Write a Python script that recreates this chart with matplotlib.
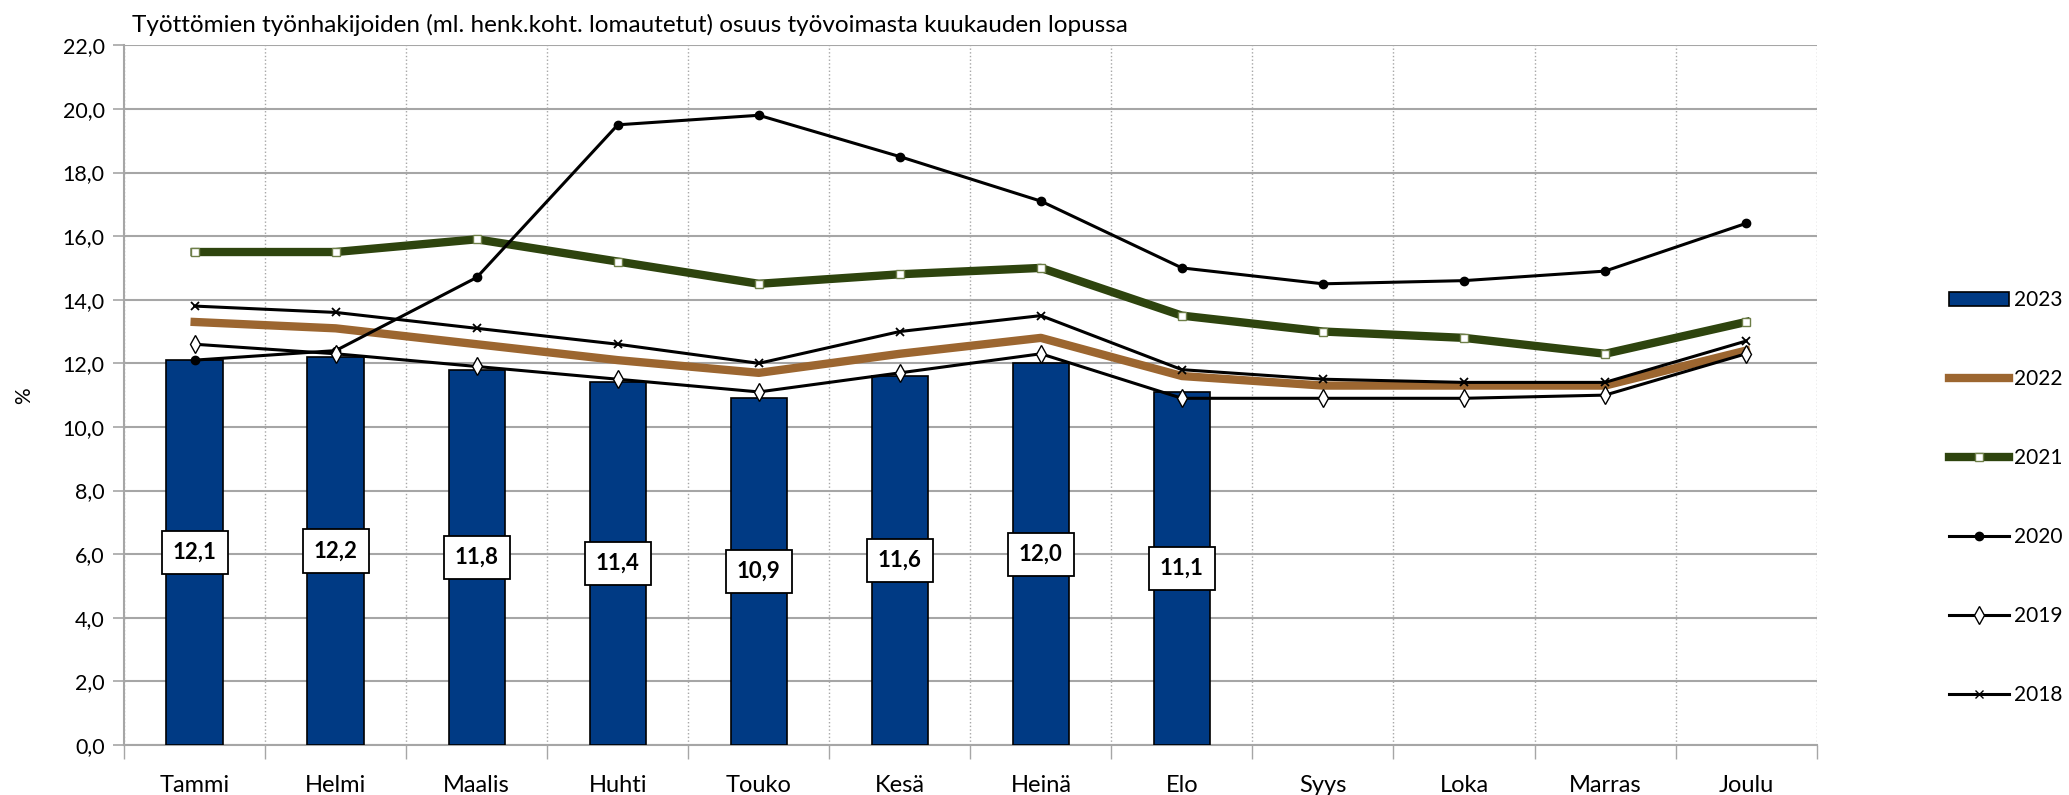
import matplotlib
matplotlib.use("Agg")
import matplotlib.pyplot as plt
from matplotlib.patches import Patch
from matplotlib.lines import Line2D
import numpy as np

plt.rcParams['font.family'] = ['Lato', 'DejaVu Sans']

months = ['Tammi', 'Helmi', 'Maalis', 'Huhti', 'Touko', 'Kesä',
          'Heinä', 'Elo', 'Syys', 'Loka', 'Marras', 'Joulu']
y2023 = [12.1, 12.2, 11.8, 11.4, 10.9, 11.6, 12.0, 11.1]
y2022 = [13.3, 13.1, 12.6, 12.1, 11.7, 12.3, 12.8, 11.6, 11.3, 11.3, 11.3, 12.4]
y2021 = [15.5, 15.5, 15.9, 15.2, 14.5, 14.8, 15.0, 13.5, 13.0, 12.8, 12.3, 13.3]
y2020 = [12.1, 12.4, 14.7, 19.5, 19.8, 18.5, 17.1, 15.0, 14.5, 14.6, 14.9, 16.4]
y2019 = [12.6, 12.3, 11.9, 11.5, 11.1, 11.7, 12.3, 10.9, 10.9, 10.9, 11.0, 12.3]
y2018 = [13.8, 13.6, 13.1, 12.6, 12.0, 13.0, 13.5, 11.8, 11.5, 11.4, 11.4, 12.7]

navy = '#003A84'
brown = '#9C6630'
green = '#2E440E'
grid_gray = '#A6A6A6'

fig = plt.figure(figsize=(20.69, 7.95), dpi=100)
ax = fig.add_axes([0.060, 0.063, 0.818, 0.880])

x = np.arange(len(months))
x23 = np.arange(len(y2023))

ax.bar(x23, y2023, width=0.4, color=navy, edgecolor='black', linewidth=1.2, zorder=3)

ax.plot(x, y2022, color=brown, linewidth=6, zorder=4, solid_joinstyle='round')
ax.plot(x, y2021, color=green, linewidth=6, marker='s', markersize=6,
        markerfacecolor='white', markeredgecolor='#6E7F48', markeredgewidth=1, zorder=5)
ax.plot(x, y2020, color='black', linewidth=2.2, marker='o', markersize=6,
        markerfacecolor='black', zorder=6)
ax.plot(x, y2019, color='black', linewidth=2.2, marker='d', markersize=9,
        markerfacecolor='white', markeredgecolor='black', markeredgewidth=1, zorder=6)
ax.plot(x, y2018, color='black', linewidth=2.2, marker='x', markersize=6,
        markeredgewidth=1.3, zorder=6)

for xi, v in zip(x23, y2023):
    ax.text(xi, v / 2, f'{v:.1f}'.replace('.', ','), ha='center', va='center',
            fontsize=16, fontweight='bold', zorder=8,
            bbox=dict(boxstyle='square,pad=0.5', facecolor='white',
                      edgecolor='black', linewidth=1.3))

ax.set_xlim(-0.5, len(months) - 0.5)
ax.set_ylim(0, 22)
ax.set_yticks(np.arange(0, 22.1, 2))
ax.set_yticklabels([f'{t:.1f}'.replace('.', ',') for t in np.arange(0, 22.1, 2)], fontsize=15.5)
ax.set_xticks(x)
ax.set_xticklabels(months, fontsize=17)
ax.set_xticks(np.arange(-0.5, len(months)), minor=True)
ax.tick_params(axis='x', which='major', length=0, pad=22)
ax.tick_params(axis='x', which='minor', length=10, color=grid_gray, width=1)
ax.tick_params(axis='y', length=8, color=grid_gray, width=1.2, pad=6)

ax.grid(axis='y', color=grid_gray, linewidth=1.5, zorder=0)
ax.grid(axis='x', which='minor', color=grid_gray, linestyle=':', linewidth=1, zorder=0)
ax.set_axisbelow(True)
for s in ['top', 'right']:
    ax.spines[s].set_visible(False)
for s in ['left', 'bottom']:
    ax.spines[s].set_color(grid_gray)
    ax.spines[s].set_linewidth(1.5)

fig.text(0.0116, 0.502, '%', fontsize=15, rotation=90, ha='center', va='center')
fig.text(0.064, 0.968, 'Työttömien työnhakijoiden (ml. henk.koht. lomautetut) osuus työvoimasta kuukauden lopussa',
         fontsize=17.5, ha='left', va='center')

handles = [
    Patch(facecolor=navy, edgecolor='black', linewidth=1.2),
    Line2D([], [], color=brown, linewidth=6),
    Line2D([], [], color=green, linewidth=6, marker='s', markersize=6,
           markerfacecolor='white', markeredgecolor='#6E7F48'),
    Line2D([], [], color='black', linewidth=2.2, marker='o', markersize=6),
    Line2D([], [], color='black', linewidth=2.2, marker='d', markersize=9,
           markerfacecolor='white', markeredgecolor='black'),
    Line2D([], [], color='black', linewidth=2.2, marker='x', markersize=6),
]
labels = ['2023', '2022', '2021', '2020', '2019', '2018']
fig.legend(handles, labels, loc='center left', bbox_to_anchor=(0.940, 0.374),
           frameon=False, fontsize=15, handlelength=2.9, handleheight=0.7,
           handletextpad=0.2, labelspacing=2.83, borderpad=0.2, borderaxespad=0)

fig.savefig('out.png', dpi=100)
